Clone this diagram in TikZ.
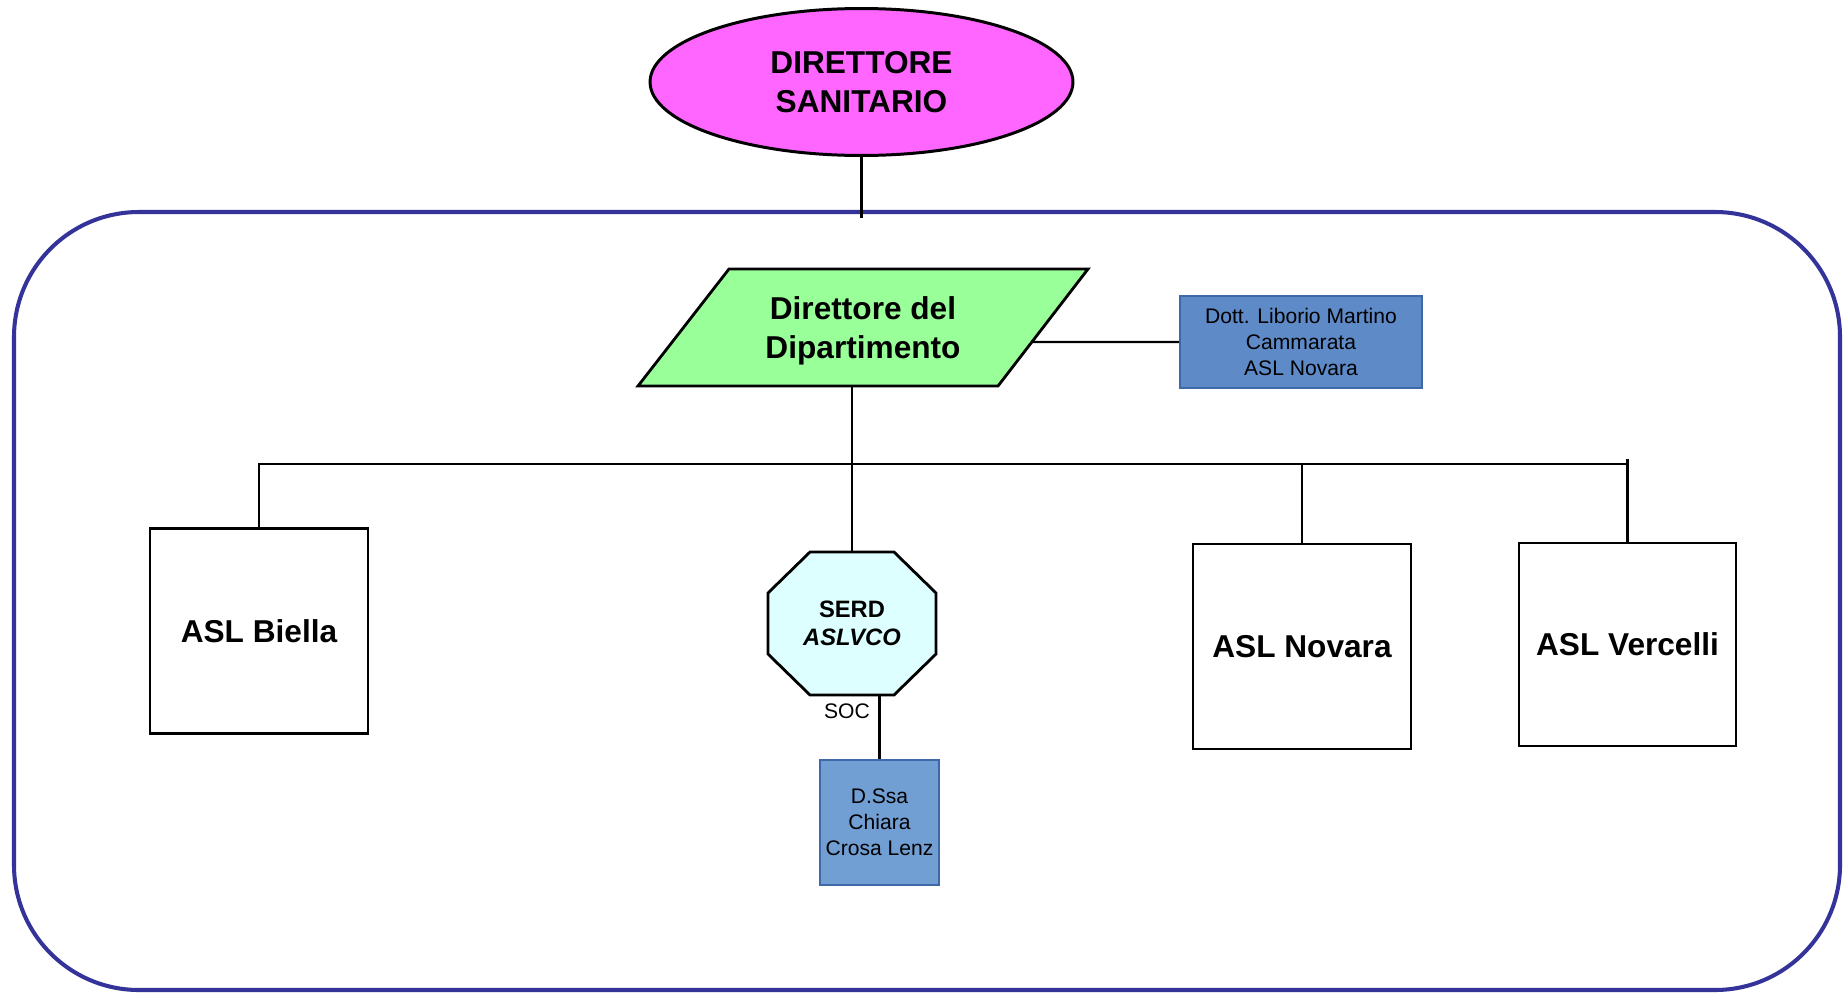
\documentclass[tikz,border=0pt]{standalone}
\usepackage{fontspec}
\setmainfont{Liberation Sans}
\usetikzlibrary{shapes.geometric,calc}
\definecolor{framec}{HTML}{333399}
\definecolor{magc}{HTML}{FF66FF}
\definecolor{grnc}{HTML}{99FF99}
\definecolor{cyc}{HTML}{DDFFFF}
\definecolor{bluea}{HTML}{5E8AC7}
\definecolor{blueb}{HTML}{729FD3}
\definecolor{bluebd}{HTML}{3F68A8}
\tikzset{
  big/.style={font=\fontsize{18}{22}\selectfont\bfseries, align=center, inner sep=0pt},
  aslbox/.style={big, draw=black, line width=1.6pt, fill=white, minimum width=4.36cm, minimum height=4.1cm},
  namebox/.style={draw=bluebd, line width=1.1pt, align=center, inner sep=0pt, font=\fontsize{12}{14.8}\selectfont},
  outline/.style={draw=black, line width=1.6pt, line join=miter},
  conn/.style={draw=black, line width=1.3pt},
}
\begin{document}
\begin{tikzpicture}[x=0.02cm,y=-0.02cm]
\useasboundingbox (0,0) rectangle (1843,994);
% frame
\draw[framec, line width=2.3pt, rounded corners=2.5cm] (14,212) rectangle (1840,990);
% shape outlines drawn directly
\coordinate (ddbl) at (638,386);
\coordinate (ddtl) at (729,269);
\coordinate (ddtr) at (1088,269);
\coordinate (ddbr) at (998,386);
\path[outline, fill=grnc] (ddbl) -- (ddtl) -- (ddtr) -- (ddbr) -- cycle;
\path[outline, fill=cyc] (810,552) -- (894,552) -- (936,593) -- (936,654) -- (894,695) -- (810,695) -- (768,654) -- (768,593) -- cycle;
% nodes
\node[big, ellipse, draw=black, line width=1.7pt, fill=magc, minimum width=8.46cm, minimum height=2.94cm] (ds) at (861.5,82) {DIRETTORE\\SANITARIO};
\node[big, minimum width=9cm, minimum height=2.34cm] (dd) at (863,331) {Direttore del\\Dipartimento};
\node[namebox, fill=bluea, minimum width=4.84cm, minimum height=1.84cm] (lib) at (1301,342) {Dott. Liborio Martino\\Cammarata\\ASL Novara};
\node[aslbox] (biella) at (259,631) {ASL Biella};
\node[aslbox] (novara) at (1302,646.5) {ASL Novara};
\node[aslbox, minimum width=4.34cm, minimum height=4.06cm] (vercelli) at (1627.5,644.5) {ASL Vercelli};
\node[minimum width=3.36cm, minimum height=2.86cm, inner sep=0pt, align=center, font=\fontsize{13.5}{16}\selectfont\bfseries] (serd) at (852,623.5) {SERD\\\itshape ASLVCO};
\node[namebox, fill=blueb, minimum width=2.38cm, minimum height=2.5cm] (dssa) at (879.5,822.5) {D.Ssa\\Chiara\\Crosa Lenz};
\node[font=\fontsize{12}{14}\selectfont, inner sep=0pt] (soc) at (847,711) {SOC};
% connectors
\coordinate (dsend) at (863,218);
\coordinate (busy) at (0,464);
\coordinate (ddbot) at (0,386);
\draw[conn] (ds.south) -- (ds.south |- dsend);
\draw[conn] (serd.north) -- (serd.north |- ddbot);
\draw[conn] (biella.north) -- (biella.north |- busy) -- (vercelli.north |- busy);
\draw[conn] (vercelli.north) -- ($(vercelli.north |- busy)+(0,-5)$);
\draw[conn] (novara.north) -- (novara.north |- busy);
\draw[conn] (lib.west) -- ($(ddbr)!0.376!(ddtr)$);
\draw[conn] (dssa.north) -- (dssa.north |- serd.south);
\end{tikzpicture}
\end{document}
